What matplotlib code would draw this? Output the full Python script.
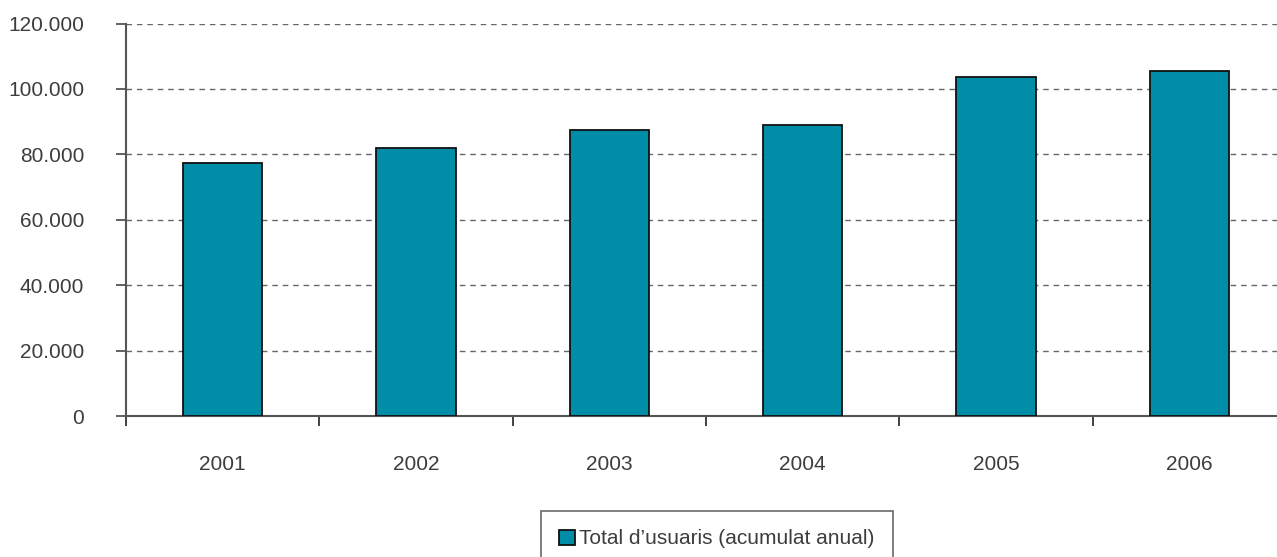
import matplotlib
matplotlib.use("Agg")
import matplotlib.pyplot as plt
from matplotlib.ticker import FixedLocator, FuncFormatter

years = ["2001", "2002", "2003", "2004", "2005", "2006"]
users = [77300, 82000, 87300, 89100, 103600, 105400]
legend_label = "Total d\u2019usuaris (acumulat anual)"
yticks = [0, 20000, 40000, 60000, 80000, 100000, 120000]

plt.rcParams['font.family'] = ['Liberation Sans', 'DejaVu Sans']
txt = '#3d3d3d'

fig = plt.figure(figsize=(12.77, 5.57), dpi=100)
ax = fig.add_axes([126/1277, 141/557, 1160/1277, 392.5/557])

x = list(range(len(years)))
bars = ax.bar(x, users, width=0.41, color='#018ca8', edgecolor='#111111',
              linewidth=1.3, label=legend_label, zorder=3)

ax.set_xlim(-0.5, len(years) - 0.5)
ax.set_ylim(0, 120000)
ax.set_yticks(yticks)
ax.yaxis.set_major_formatter(FuncFormatter(lambda v, p: f"{int(v):,}".replace(",", ".")))
ax.yaxis.grid(True, linestyle=(0, (4, 3.5)), color='#666666', linewidth=1.0, zorder=0)

ax.xaxis.set_major_locator(FixedLocator([i - 0.5 for i in range(len(years) + 1)]))
ax.xaxis.set_major_formatter(FuncFormatter(lambda v, p: ""))
ax.xaxis.set_minor_locator(FixedLocator(x))
ax.set_xticklabels(years, minor=True)
ax.tick_params(axis='x', which='minor', length=0, pad=28, labelsize=15, labelcolor=txt)
ax.tick_params(axis='x', which='major', length=7, width=1.3, color='#333333', direction='out')
ax.tick_params(axis='y', length=7, width=1.3, color='#555555', labelsize=15, labelcolor=txt, pad=23)

for s in ['top', 'right']:
    ax.spines[s].set_visible(False)
for s in ['left', 'bottom']:
    ax.spines[s].set_color('#555555')
    ax.spines[s].set_linewidth(1.5)

leg = fig.legend(handles=[bars], labels=[legend_label], loc='upper left',
                 bbox_to_anchor=(540.7/1277, 1 - 510.7/557), borderaxespad=0,
                 fancybox=False, frameon=True, fontsize=15, handlelength=0.75,
                 handleheight=0.75, handletextpad=0.2, borderpad=0.9,
                 edgecolor='#444444', labelcolor=txt)
leg.get_frame().set_linewidth(1.2)

fig.savefig("out.png", dpi=100)
